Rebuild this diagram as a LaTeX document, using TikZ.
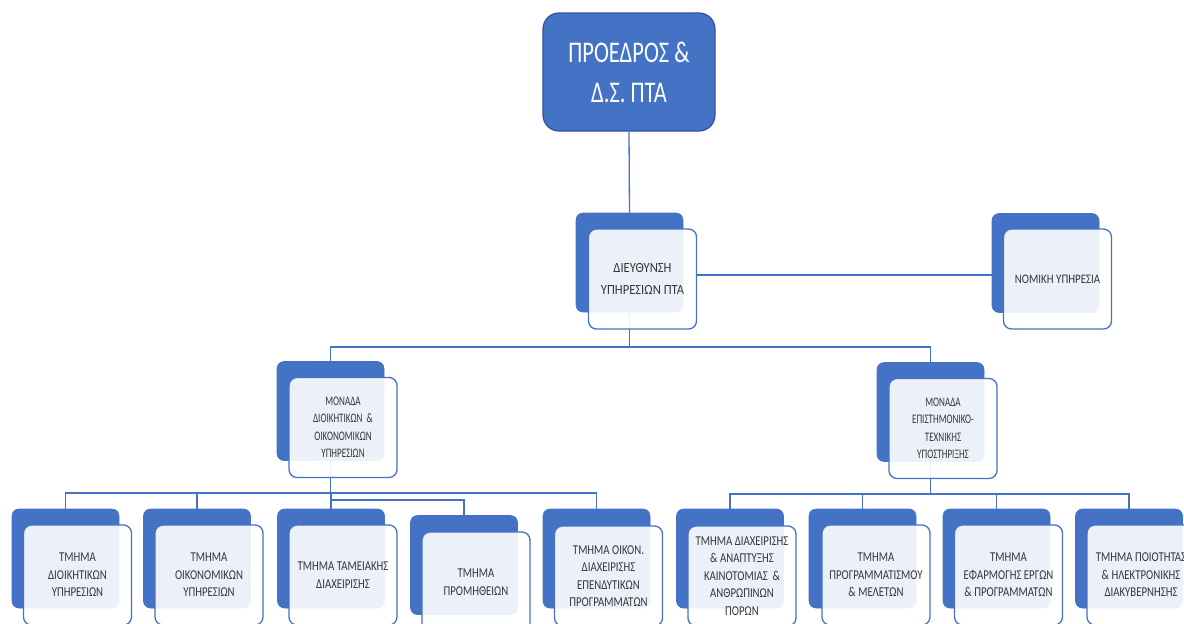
\documentclass[tikz,border=0pt]{standalone}
\usepackage{fontspec}
\newfontfamily\boxfont[FakeStretch=0.80]{Carlito}
\newfontfamily\unitfont[FakeStretch=0.70]{Carlito}
\newfontfamily\midfont[FakeStretch=0.90]{Carlito}
\newfontfamily\legalfont[FakeStretch=0.84]{Carlito}
\newfontfamily\topfont[FakeStretch=0.75]{Carlito}
\definecolor{accent}{HTML}{4472C4}
\definecolor{accentdark}{HTML}{2F5597}
\definecolor{txt}{HTML}{363636}
\begin{document}
\begin{tikzpicture}[x=1pt,y=-1pt,
  backbox/.style={fill=accent, draw=accent, line width=0.6pt, rounded corners=7pt,
    minimum width=107pt, minimum height=99pt, inner sep=0pt},
  frontbox/.style={fill=white, fill opacity=0.9, text opacity=1, draw=accent, line width=1.3pt,
    rounded corners=8pt, minimum width=108pt, minimum height=100pt, align=center,
    text=txt, font=\boxfont\fontsize{13.5}{17.5}\selectfont, inner sep=0pt},
  unittext/.style={font=\unitfont\fontsize{13}{17.5}\selectfont},
  midtext/.style={font=\midfont\fontsize{14}{22}\selectfont},
  legaltext/.style={font=\legalfont\fontsize{13}{17.5}\selectfont},
  topbox/.style={fill=accent, draw=accentdark, line width=1.2pt, rounded corners=16pt,
    minimum width=172pt, minimum height=118pt, align=center, text=white,
    font=\topfont\fontsize{30}{40}\selectfont, inner sep=0pt},
  link/.style={draw=accent, line width=1.3pt},
]
\useasboundingbox[fill=white] (0,0) rectangle (1184,624);

% top
\node[topbox] (top) at (629,72) {ΠΡΟΕΔΡΟΣ \&\\Δ.Σ. ΠΤΑ};

% back boxes
\node[backbox] (db)  at (629.5,262.5) {};
\node[backbox] (nb)  at (1045.5,263) {};
\node[backbox] (m1b) at (330.5,411) {};
\node[backbox] (m2b) at (930.5,412) {};
\node[backbox] (b1b) at (65.5,558.5) {};
\node[backbox] (b2b) at (197,558.5) {};
\node[backbox] (b3b) at (331,558.5) {};
\node[backbox] (b4b) at (464,565) {};
\node[backbox] (b5b) at (596.5,558.5) {};
\node[backbox] (b6b) at (730,558.5) {};
\node[backbox] (b7b) at (862.5,558.5) {};
\node[backbox] (b8b) at (996.5,558.5) {};
\node[backbox] (b9b) at (1129,558.5) {};

% bus coordinates
\coordinate (bus0) at (0,347);
\coordinate (bus1) at (0,493);
\coordinate (bus1b) at (0,500);
\coordinate (bus2) at (0,494);

% connectors
\draw[link] (top.south) -- (db.north);
\draw[link] (db.south) -- (db.south |- bus0) -| (m1b.north);
\draw[link] (db.south |- bus0) -| (m2b.north);
\draw[link] (m1b.south) -- (m1b.south |- bus1b);
\foreach \b in {b1b,b2b,b3b,b5b}{
  \draw[link] (m1b.south |- bus1) -| (\b.north);
}
\draw[link] (m1b.south |- bus1b) -| (b4b.north);
\draw[link] (m2b.south) -- (m2b.south |- bus2);
\foreach \b in {b6b,b7b,b8b,b9b}{
  \draw[link] (m2b.south |- bus2) -| (\b.north);
}

% front boxes
\node[frontbox, midtext] (d)  at (642.5,279) {ΔΙΕΥΘΥΝΣΗ\\ΥΠΗΡΕΣΙΩΝ ΠΤΑ};
\node[frontbox, legaltext] (n)  at (1057.5,279) {ΝΟΜΙΚΗ ΥΠΗΡΕΣΙΑ};
\node[frontbox, unittext] (m1) at (343,427.5) {ΜΟΝΑΔΑ\\ΔΙΟΙΚΗΤΙΚΩΝ\ \ \&\\ΟΙΚΟΝΟΜΙΚΩΝ\\ΥΠΗΡΕΣΙΩΝ};
\node[frontbox, unittext] (m2) at (943,428.5) {ΜΟΝΑΔΑ\\ΕΠΙΣΤΗΜΟΝΙΚΟ-\\ΤΕΧΝΙΚΗΣ\\ΥΠΟΣΤΗΡΙΞΗΣ};
\node[frontbox] (b1) at (77.5,575) {ΤΜΗΜΑ\\ΔΙΟΙΚΗΤΙΚΩΝ\\ΥΠΗΡΕΣΙΩΝ};
\node[frontbox] (b2) at (209,575) {ΤΜΗΜΑ\\ΟΙΚΟΝΟΜΙΚΩΝ\\ΥΠΗΡΕΣΙΩΝ};
\node[frontbox] (b3) at (343,575) {ΤΜΗΜΑ ΤΑΜΕΙΑΚΗΣ\\ΔΙΑΧΕΙΡΙΣΗΣ};
\node[frontbox] (b4) at (476,582) {ΤΜΗΜΑ\\ΠΡΟΜΗΘΕΙΩΝ};
\node[frontbox] (b5) at (608.5,576) {ΤΜΗΜΑ ΟΙΚΟΝ.\\ΔΙΑΧΕΙΡΙΣΗΣ\\ΕΠΕΝΔΥΤΙΚΩΝ\\ΠΡΟΓΡΑΜΜΑΤΩΝ};
\node[frontbox] (b6) at (742,576) {ΤΜΗΜΑ ΔΙΑΧΕΙΡΙΣΗΣ\\\& ΑΝΑΠΤΥΞΗΣ\\ΚΑΙΝΟΤΟΜΙΑΣ\ \ \&\\ΑΝΘΡΩΠΙΝΩΝ\\ΠΟΡΩΝ};
\node[frontbox] (b7) at (876,575) {ΤΜΗΜΑ\\ΠΡΟΓΡΑΜΜΑΤΙΣΜΟΥ\\\& ΜΕΛΕΤΩΝ};
\node[frontbox] (b8) at (1008.5,575) {ΤΜΗΜΑ\\ΕΦΑΡΜΟΓΗΣ ΕΡΓΩΝ\\\& ΠΡΟΓΡΑΜΜΑΤΩΝ};
\node[frontbox] (b9) at (1141,575) {ΤΜΗΜΑ ΠΟΙΟΤΗΤΑΣ\\\& ΗΛΕΚΤΡΟΝΙΚΗΣ\\ΔΙΑΚΥΒΕΡΝΗΣΗΣ};

\coordinate (dn) at ([yshift=4pt]d.east);
\draw[link] (dn) -- (dn -| nb.west);
\end{tikzpicture}
\end{document}
